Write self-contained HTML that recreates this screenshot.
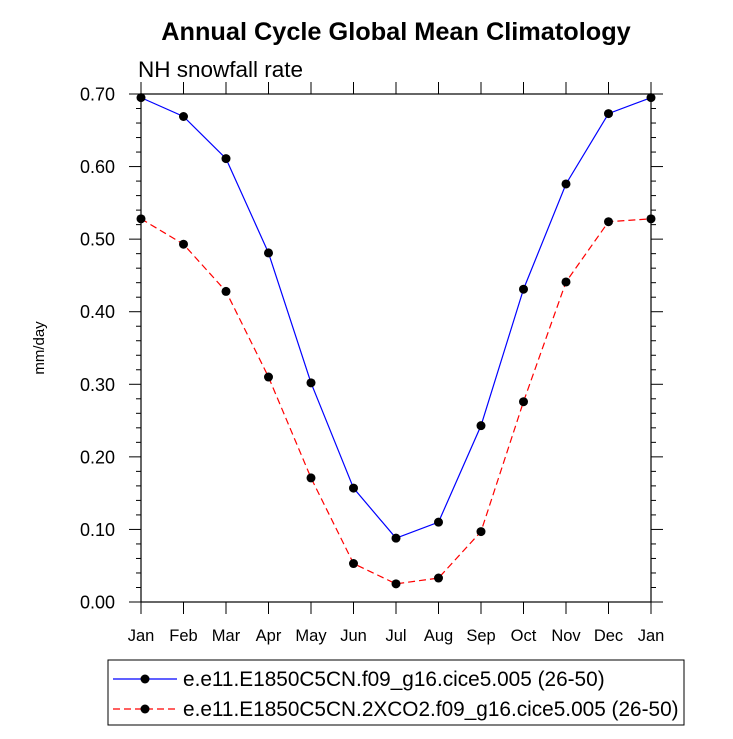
<!DOCTYPE html>
<html><head><meta charset="utf-8"><style>
body{margin:0;background:#fff;font-family:"Liberation Sans",sans-serif}
</style></head><body>
<svg id="chart" width="733" height="734" xmlns="http://www.w3.org/2000/svg" font-family="Liberation Sans, sans-serif">
<text x="396" y="40" text-anchor="middle" font-size="25.3" font-weight="bold">Annual Cycle Global Mean Climatology</text>
<text x="138" y="77" font-size="22.5">NH snowfall rate</text>
<text transform="translate(44,348) rotate(-90)" text-anchor="middle" font-size="15">mm/day</text>
<g id="axes"></g><g id="series"></g>
<g>
<rect x="108" y="660" width="576" height="65" fill="#fff" stroke="#000" stroke-width="1"/>
<line x1="113" y1="679" x2="177" y2="679" stroke="#00f" stroke-width="1.2"/>
<circle cx="145" cy="679" r="4.5" fill="#000"/>
<text x="183" y="686" font-size="20.8">e.e11.E1850C5CN.f09_g16.cice5.005 (26-50)</text>
<line x1="113" y1="709" x2="177" y2="709" stroke="#f00" stroke-width="1.2" stroke-dasharray="7,4"/>
<circle cx="145" cy="709" r="4.5" fill="#000"/>
<text x="183" y="716" font-size="20.8">e.e11.E1850C5CN.2XCO2.f09_g16.cice5.005 (26-50)</text>
</g>
</svg>
<script>
const months=["Jan","Feb","Mar","Apr","May","Jun","Jul","Aug","Sep","Oct","Nov","Dec","Jan"];
const controlValues=[0.695,0.669,0.611,0.481,0.302,0.157,0.088,0.110,0.243,0.431,0.576,0.673,0.695];
const co2Values=[0.528,0.493,0.428,0.310,0.171,0.053,0.025,0.033,0.097,0.276,0.441,0.524,0.528];
const yTicks=[0,0.1,0.2,0.3,0.4,0.5,0.6,0.7];
const L=141,R=651,T=94,B=602,ymax=0.7;
const xs=i=>L+(R-L)*i/(months.length-1);
const ys=v=>B-(B-T)*v/ymax;
const NS="http://www.w3.org/2000/svg";
function mk(t,a,p){const e=document.createElementNS(NS,t);for(const k in a)e.setAttribute(k,a[k]);p.appendChild(e);return e;}
const ax=document.getElementById('axes');
const frame=mk('rect',{x:L,y:T,width:R-L,height:B-T,fill:'none',stroke:'#000','stroke-width':1.2},ax);


for(let k=0;k<=35;k++){const v=k*0.02,y=ys(v),len=k%5==0?12:5;
mk('line',{x1:L,y1:y,x2:L-len,y2:y,stroke:'#000'},ax);
mk('line',{x1:R,y1:y,x2:R+len,y2:y,stroke:'#000'},ax);}
yTicks.forEach(v=>{const t=mk('text',{x:L-26,y:ys(v)+6.5,'text-anchor':'end','font-size':18},ax);t.textContent=v.toFixed(2);

});
months.forEach((m,i)=>{const x=xs(i);
mk('line',{x1:x,y1:B,x2:x,y2:B+12,stroke:'#000'},ax);
mk('line',{x1:x,y1:T,x2:x,y2:T-12,stroke:'#000'},ax);
const t=mk('text',{x:x,y:B+39,'text-anchor':'middle','font-size':16.5},ax);t.textContent=m;

});
const sg=document.getElementById('series');
function series(vals,color,dash,name){
const p=mk('polyline',{points:vals.map((v,i)=>xs(i)+','+ys(v)).join(' '),fill:'none',stroke:color,'stroke-width':1.2,'stroke-dasharray':dash},sg);


vals.forEach((v,i)=>{const c=mk('circle',{cx:xs(i),cy:ys(v),r:4.5,fill:'#000'},sg);

});}
series(controlValues,'#00f','none','control');
series(co2Values,'#f00','7,4','2xco2');
</script>
</body></html>
